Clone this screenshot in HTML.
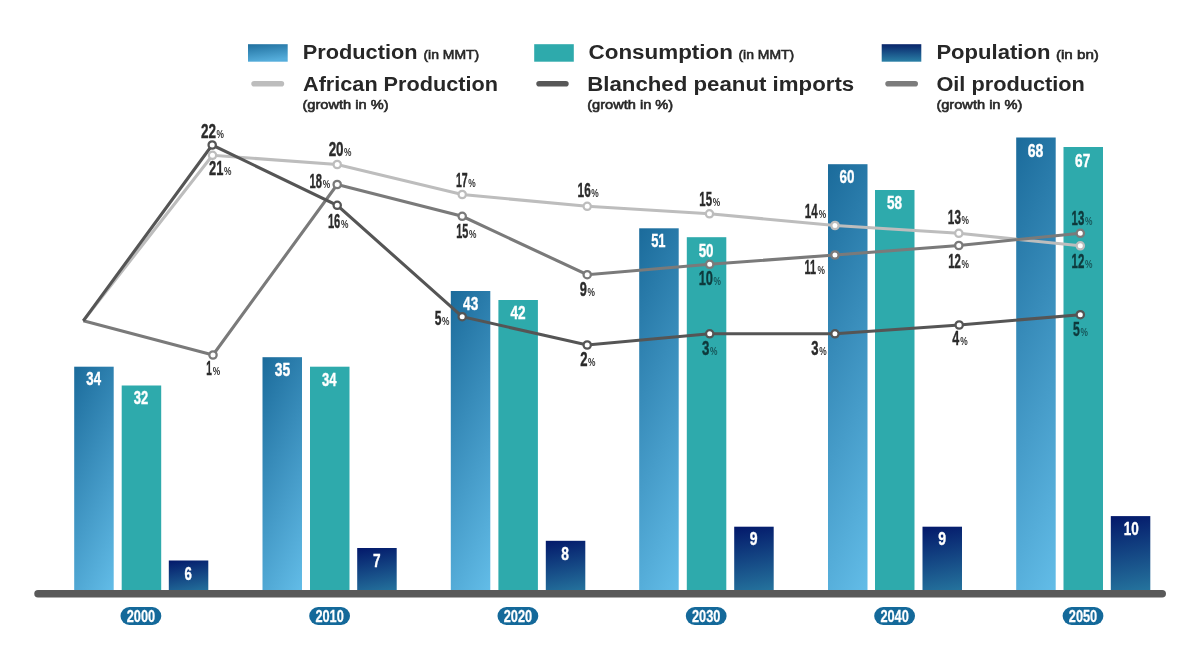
<!DOCTYPE html>
<html lang="en"><head><meta charset="utf-8"><title>Production, Consumption and Population chart</title>
<style>
html,body{margin:0;padding:0;background:#fff;}
body{width:1200px;height:668px;overflow:hidden;font-family:"Liberation Sans",sans-serif;}
svg{display:block;position:absolute;left:0;top:0;}
text{font-family:"Liberation Sans",sans-serif;}
.lg{font-weight:700;font-size:20px;fill:#272727;}
.sm{font-weight:400;font-size:13px;fill:#272727;stroke:#272727;stroke-width:0.6px;}
.bl{font-weight:700;fill:#fff;stroke:#fff;stroke-width:0.4px;}
.ll{font-weight:700;fill:#2b2b2b;stroke:#2b2b2b;stroke-width:0.4px;}
.pc{font-weight:700;font-size:11.8px;fill:#333;}
.yr{font-weight:700;font-size:16px;fill:#fff;stroke:#fff;stroke-width:0.25px;}
</style></head><body>
<svg width="1200" height="668" viewBox="0 0 1200 668">
<defs>
<linearGradient id="gb" x1="0" y1="0" x2="1" y2="1"><stop offset="0" stop-color="#1b6b9b"/><stop offset="1" stop-color="#63bde8"/></linearGradient>
<linearGradient id="gbl" x1="0" y1="0" x2="0.25" y2="1"><stop offset="0" stop-color="#1f6f9e"/><stop offset="1" stop-color="#55addb"/></linearGradient>
<linearGradient id="gn" x1="0.3" y1="0" x2="0.7" y2="1"><stop offset="0" stop-color="#04175f"/><stop offset="1" stop-color="#26779f"/></linearGradient>
<linearGradient id="gnl" x1="0" y1="0" x2="0" y2="1"><stop offset="0" stop-color="#08246a"/><stop offset="1" stop-color="#2a80a6"/></linearGradient>
</defs>
<rect width="1200" height="668" fill="#ffffff"/>

<rect x="248" y="44.2" width="39.7" height="17.5" fill="url(#gbl)"/>
<rect x="534.2" y="44.2" width="39.6" height="17.5" fill="#2eaaac"/>
<rect x="881.7" y="44.2" width="39.6" height="17.5" fill="url(#gnl)"/>
<line x1="254.10000000000002" y1="83.8" x2="281.4" y2="83.8" stroke="#bdbdbd" stroke-width="5.6" stroke-linecap="round"/>
<line x1="539.0999999999999" y1="83.8" x2="565.9000000000001" y2="83.8" stroke="#585858" stroke-width="5.6" stroke-linecap="round"/>
<line x1="888.0999999999999" y1="83.8" x2="915.2" y2="83.8" stroke="#7c7c7c" stroke-width="5.6" stroke-linecap="round"/>
<text class="lg" x="302.8" y="59.2" textLength="114.7" lengthAdjust="spacingAndGlyphs">Production</text>
<text class="sm" x="423.4" y="59.2" textLength="55.8" lengthAdjust="spacingAndGlyphs">(in MMT)</text>
<text class="lg" x="303.0" y="90.8" textLength="194.9" lengthAdjust="spacingAndGlyphs">African Production</text>
<text class="sm" x="302.5" y="108.7" textLength="86" lengthAdjust="spacingAndGlyphs">(growth in %)</text>
<text class="lg" x="588.6" y="59.2" textLength="144.3" lengthAdjust="spacingAndGlyphs">Consumption</text>
<text class="sm" x="738.4" y="59.2" textLength="55.8" lengthAdjust="spacingAndGlyphs">(in MMT)</text>
<text class="lg" x="587.2" y="90.8" textLength="267" lengthAdjust="spacingAndGlyphs">Blanched peanut imports</text>
<text class="sm" x="587.2" y="108.7" textLength="86" lengthAdjust="spacingAndGlyphs">(growth in %)</text>
<text class="lg" x="936.4" y="59.2" textLength="114.0" lengthAdjust="spacingAndGlyphs">Population</text>
<text class="sm" x="1055.9" y="59.2" textLength="43.0" lengthAdjust="spacingAndGlyphs">(in bn)</text>
<text class="lg" x="936.4" y="90.8" textLength="148.5" lengthAdjust="spacingAndGlyphs">Oil production</text>
<text class="sm" x="936.4" y="108.7" textLength="86" lengthAdjust="spacingAndGlyphs">(growth in %)</text>
<linearGradient id="b0" gradientUnits="userSpaceOnUse" x1="74.2" y1="366.7" x2="195.3" y2="425.8"><stop offset="0" stop-color="#1b6b9b"/><stop offset="1" stop-color="#63bde8"/></linearGradient>
<linearGradient id="n0" gradientUnits="userSpaceOnUse" x1="168.8" y1="560.5" x2="175.5" y2="598.8"><stop offset="0" stop-color="#03186a"/><stop offset="1" stop-color="#26779f"/></linearGradient>
<rect x="74.2" y="366.7" width="39.5" height="226.3" fill="url(#b0)"/>
<rect x="121.7" y="385.5" width="39.5" height="207.5" fill="#2eaaac"/>
<rect x="168.8" y="560.5" width="39.5" height="32.5" fill="url(#n0)"/>
<linearGradient id="b1" gradientUnits="userSpaceOnUse" x1="262.5" y1="357.2" x2="387.3" y2="418.1"><stop offset="0" stop-color="#1b6b9b"/><stop offset="1" stop-color="#63bde8"/></linearGradient>
<linearGradient id="n1" gradientUnits="userSpaceOnUse" x1="357.2" y1="548.0" x2="366.1" y2="598.4"><stop offset="0" stop-color="#03186a"/><stop offset="1" stop-color="#26779f"/></linearGradient>
<rect x="262.5" y="357.2" width="39.5" height="235.8" fill="url(#b1)"/>
<rect x="310.0" y="366.7" width="39.5" height="226.3" fill="#2eaaac"/>
<rect x="357.2" y="548.0" width="39.5" height="45.0" fill="url(#n1)"/>
<linearGradient id="b2" gradientUnits="userSpaceOnUse" x1="450.8" y1="291.0" x2="601.7" y2="364.6"><stop offset="0" stop-color="#1b6b9b"/><stop offset="1" stop-color="#63bde8"/></linearGradient>
<linearGradient id="n2" gradientUnits="userSpaceOnUse" x1="545.8" y1="540.8" x2="555.9" y2="598.2"><stop offset="0" stop-color="#03186a"/><stop offset="1" stop-color="#26779f"/></linearGradient>
<rect x="450.8" y="291.0" width="39.5" height="302.0" fill="url(#b2)"/>
<rect x="498.4" y="300.0" width="39.5" height="293.0" fill="#2eaaac"/>
<rect x="545.8" y="540.8" width="39.5" height="52.2" fill="url(#n2)"/>
<linearGradient id="b3" gradientUnits="userSpaceOnUse" x1="639.2" y1="228.3" x2="814.8" y2="313.9"><stop offset="0" stop-color="#1b6b9b"/><stop offset="1" stop-color="#63bde8"/></linearGradient>
<linearGradient id="n3" gradientUnits="userSpaceOnUse" x1="734.2" y1="526.7" x2="746.7" y2="597.8"><stop offset="0" stop-color="#03186a"/><stop offset="1" stop-color="#26779f"/></linearGradient>
<rect x="639.2" y="228.3" width="39.5" height="364.7" fill="url(#b3)"/>
<rect x="686.8" y="237.2" width="39.5" height="355.8" fill="#2eaaac"/>
<rect x="734.2" y="526.7" width="39.5" height="66.3" fill="url(#n3)"/>
<linearGradient id="b4" gradientUnits="userSpaceOnUse" x1="828.0" y1="164.2" x2="1028.9" y2="262.2"><stop offset="0" stop-color="#1b6b9b"/><stop offset="1" stop-color="#63bde8"/></linearGradient>
<linearGradient id="n4" gradientUnits="userSpaceOnUse" x1="922.5" y1="526.7" x2="935.0" y2="597.8"><stop offset="0" stop-color="#03186a"/><stop offset="1" stop-color="#26779f"/></linearGradient>
<rect x="828.0" y="164.2" width="39.5" height="428.8" fill="url(#b4)"/>
<rect x="875.0" y="190.0" width="39.5" height="403.0" fill="#2eaaac"/>
<rect x="922.5" y="526.7" width="39.5" height="66.3" fill="url(#n4)"/>
<linearGradient id="b5" gradientUnits="userSpaceOnUse" x1="1016.2" y1="137.5" x2="1227.6" y2="240.6"><stop offset="0" stop-color="#1b6b9b"/><stop offset="1" stop-color="#63bde8"/></linearGradient>
<linearGradient id="n5" gradientUnits="userSpaceOnUse" x1="1110.8" y1="516.1" x2="1125.1" y2="597.4"><stop offset="0" stop-color="#03186a"/><stop offset="1" stop-color="#26779f"/></linearGradient>
<rect x="1016.2" y="137.5" width="39.5" height="455.5" fill="url(#b5)"/>
<rect x="1063.5" y="147.0" width="39.5" height="446.0" fill="#2eaaac"/>
<rect x="1110.8" y="516.1" width="39.5" height="76.9" fill="url(#n5)"/>
<text class="bl" font-size="18.9" transform="translate(86.30,384.70) scale(0.698,1)">34</text>
<text class="bl" font-size="18.9" transform="translate(133.80,403.80) scale(0.686,1)">32</text>
<text class="bl" font-size="18.9" transform="translate(184.51,579.70) scale(0.701,1)">6</text>
<text class="bl" font-size="18.9" transform="translate(274.68,375.50) scale(0.733,1)">35</text>
<text class="bl" font-size="18.9" transform="translate(322.00,386.00) scale(0.688,1)">34</text>
<text class="bl" font-size="18.9" transform="translate(373.01,567.00) scale(0.722,1)">7</text>
<text class="bl" font-size="18.9" transform="translate(463.10,309.70) scale(0.718,1)">43</text>
<text class="bl" font-size="18.9" transform="translate(510.40,319.00) scale(0.721,1)">42</text>
<text class="bl" font-size="18.9" transform="translate(561.16,559.70) scale(0.730,1)">8</text>
<text class="bl" font-size="18.9" transform="translate(651.20,247.20) scale(0.683,1)">51</text>
<text class="bl" font-size="18.9" transform="translate(698.69,257.00) scale(0.707,1)">50</text>
<text class="bl" font-size="18.9" transform="translate(749.71,545.30) scale(0.743,1)">9</text>
<text class="bl" font-size="18.9" transform="translate(839.50,182.80) scale(0.711,1)">60</text>
<text class="bl" font-size="18.9" transform="translate(887.08,209.30) scale(0.715,1)">58</text>
<text class="bl" font-size="18.9" transform="translate(938.31,545.30) scale(0.743,1)">9</text>
<text class="bl" font-size="18.9" transform="translate(1027.78,156.50) scale(0.745,1)">68</text>
<text class="bl" font-size="18.9" transform="translate(1075.09,166.50) scale(0.723,1)">67</text>
<text class="bl" font-size="18.9" transform="translate(1123.75,534.50) scale(0.714,1)">10</text>
<line x1="38" y1="593.8" x2="1162.2" y2="593.8" stroke="#595959" stroke-width="7.5" stroke-linecap="round"/>
<rect x="120.5" y="607" width="40.8" height="18" rx="9" fill="#14699a"/>
<text class="yr" text-anchor="middle" transform="translate(140.9,621.7) scale(0.80,1)">2000</text>
<rect x="309.2" y="607" width="40.8" height="18" rx="9" fill="#14699a"/>
<text class="yr" text-anchor="middle" transform="translate(329.6,621.7) scale(0.80,1)">2010</text>
<rect x="497.5" y="607" width="40.8" height="18" rx="9" fill="#14699a"/>
<text class="yr" text-anchor="middle" transform="translate(517.9,621.7) scale(0.80,1)">2020</text>
<rect x="685.8" y="607" width="40.8" height="18" rx="9" fill="#14699a"/>
<text class="yr" text-anchor="middle" transform="translate(706.2,621.7) scale(0.80,1)">2030</text>
<rect x="874.2" y="607" width="40.8" height="18" rx="9" fill="#14699a"/>
<text class="yr" text-anchor="middle" transform="translate(894.6,621.7) scale(0.80,1)">2040</text>
<rect x="1062.6" y="607" width="40.8" height="18" rx="9" fill="#14699a"/>
<text class="yr" text-anchor="middle" transform="translate(1083.0,621.7) scale(0.80,1)">2050</text>
<polyline points="83.3,320.8 212.5,155.3 337.2,164.5 462.2,194.5 587.2,206.3 709.5,213.8 835,225.5 958.8,233.3 1080.3,245.8" fill="none" stroke="#bdbdbd" stroke-width="3.1" stroke-linejoin="miter"/>
<polyline points="83.3,320.8 213,355 337.2,184.5 462.2,216.3 587.2,274.7 709.7,264.3 835,255 958.8,245.5 1080.3,233.3" fill="none" stroke="#7a7a7a" stroke-width="3.1" stroke-linejoin="miter"/>
<polyline points="83.3,320.8 212.2,145 337.2,205.3 462.2,316.7 587.2,345 709.7,333.8 835,333.8 959.2,325 1080.3,314.7" fill="none" stroke="#555555" stroke-width="3.1" stroke-linejoin="miter"/>
<circle cx="212.5" cy="155.3" r="3.65" fill="#fff" stroke="#bdbdbd" stroke-width="2.3"/>
<circle cx="337.2" cy="164.5" r="3.65" fill="#fff" stroke="#bdbdbd" stroke-width="2.3"/>
<circle cx="462.2" cy="194.5" r="3.65" fill="#fff" stroke="#bdbdbd" stroke-width="2.3"/>
<circle cx="587.2" cy="206.3" r="3.65" fill="#fff" stroke="#bdbdbd" stroke-width="2.3"/>
<circle cx="709.5" cy="213.8" r="3.65" fill="#fff" stroke="#bdbdbd" stroke-width="2.3"/>
<circle cx="835" cy="225.5" r="3.65" fill="#fff" stroke="#bdbdbd" stroke-width="2.3"/>
<circle cx="958.8" cy="233.3" r="3.65" fill="#fff" stroke="#bdbdbd" stroke-width="2.3"/>
<circle cx="1080.3" cy="245.8" r="3.65" fill="#fff" stroke="#bdbdbd" stroke-width="2.3"/>
<circle cx="213" cy="355" r="3.65" fill="#fff" stroke="#7a7a7a" stroke-width="2.3"/>
<circle cx="337.2" cy="184.5" r="3.65" fill="#fff" stroke="#7a7a7a" stroke-width="2.3"/>
<circle cx="462.2" cy="216.3" r="3.65" fill="#fff" stroke="#7a7a7a" stroke-width="2.3"/>
<circle cx="587.2" cy="274.7" r="3.65" fill="#fff" stroke="#7a7a7a" stroke-width="2.3"/>
<circle cx="709.7" cy="264.3" r="3.65" fill="#fff" stroke="#7a7a7a" stroke-width="2.3"/>
<circle cx="835" cy="255" r="3.65" fill="#fff" stroke="#7a7a7a" stroke-width="2.3"/>
<circle cx="958.8" cy="245.5" r="3.65" fill="#fff" stroke="#7a7a7a" stroke-width="2.3"/>
<circle cx="1080.3" cy="233.3" r="3.65" fill="#fff" stroke="#7a7a7a" stroke-width="2.3"/>
<circle cx="212.2" cy="145" r="3.65" fill="#fff" stroke="#555555" stroke-width="2.3"/>
<circle cx="337.2" cy="205.3" r="3.65" fill="#fff" stroke="#555555" stroke-width="2.3"/>
<circle cx="462.2" cy="316.7" r="3.65" fill="#fff" stroke="#555555" stroke-width="2.3"/>
<circle cx="587.2" cy="345" r="3.65" fill="#fff" stroke="#555555" stroke-width="2.3"/>
<circle cx="709.7" cy="333.8" r="3.65" fill="#fff" stroke="#555555" stroke-width="2.3"/>
<circle cx="835" cy="333.8" r="3.65" fill="#fff" stroke="#555555" stroke-width="2.3"/>
<circle cx="959.2" cy="325" r="3.65" fill="#fff" stroke="#555555" stroke-width="2.3"/>
<circle cx="1080.3" cy="314.7" r="3.65" fill="#fff" stroke="#555555" stroke-width="2.3"/>
<text class="ll" font-size="20.4" transform="translate(201.03,137.55) scale(0.662,1)">22</text>
<text class="pc" transform="translate(216.55,137.55) scale(0.71,1)">%</text>
<text class="ll" font-size="20.4" transform="translate(209.05,174.95) scale(0.631,1)">21</text>
<text class="pc" transform="translate(224.05,174.95) scale(0.71,1)">%</text>
<text class="ll" font-size="20.4" transform="translate(206.36,375.05) scale(0.495,1)">1</text>
<text class="pc" transform="translate(212.75,375.05) scale(0.71,1)">%</text>
<text class="ll" font-size="20.4" transform="translate(328.63,156.25) scale(0.658,1)">20</text>
<text class="pc" transform="translate(344.05,156.25) scale(0.71,1)">%</text>
<text class="ll" font-size="20.4" transform="translate(309.59,187.55) scale(0.549,1)">18</text>
<text class="pc" transform="translate(322.75,187.55) scale(0.71,1)">%</text>
<text class="ll" font-size="20.4" transform="translate(327.90,228.35) scale(0.547,1)">16</text>
<text class="pc" transform="translate(340.95,228.35) scale(0.71,1)">%</text>
<text class="ll" font-size="20.4" transform="translate(455.94,187.25) scale(0.517,1)">17</text>
<text class="pc" transform="translate(468.25,187.25) scale(0.71,1)">%</text>
<text class="ll" font-size="20.4" transform="translate(456.22,238.35) scale(0.533,1)">15</text>
<text class="pc" transform="translate(469.05,238.35) scale(0.71,1)">%</text>
<text class="ll" font-size="20.4" transform="translate(434.63,324.95) scale(0.592,1)">5</text>
<text class="pc" transform="translate(442.05,324.95) scale(0.71,1)">%</text>
<text class="ll" font-size="20.4" transform="translate(577.55,197.25) scale(0.581,1)">16</text>
<text class="pc" transform="translate(591.35,197.25) scale(0.71,1)">%</text>
<text class="ll" font-size="20.4" transform="translate(579.85,295.75) scale(0.628,1)">9</text>
<text class="pc" transform="translate(587.55,295.75) scale(0.71,1)">%</text>
<text class="ll" font-size="20.4" transform="translate(580.14,365.85) scale(0.642,1)">2</text>
<text class="pc" transform="translate(587.95,365.85) scale(0.71,1)">%</text>
<text class="ll" font-size="20.4" transform="translate(699.28,206.35) scale(0.562,1)">15</text>
<text class="pc" transform="translate(712.75,206.35) scale(0.71,1)">%</text>
<text class="ll" style="fill:#0e383b;stroke:#0e383b" font-size="20.4" transform="translate(698.69,285.05) scale(0.632,1)">10</text>
<text class="pc" style="fill:#17575b" transform="translate(713.55,285.05) scale(0.71,1)">%</text>
<text class="ll" style="fill:#0e383b;stroke:#0e383b" font-size="20.4" transform="translate(701.99,355.05) scale(0.651,1)">3</text>
<text class="pc" style="fill:#17575b" transform="translate(709.95,355.05) scale(0.71,1)">%</text>
<text class="ll" font-size="20.4" transform="translate(804.87,218.35) scale(0.568,1)">14</text>
<text class="pc" transform="translate(818.75,218.35) scale(0.71,1)">%</text>
<text class="ll" font-size="20.4" transform="translate(804.62,273.85) scale(0.533,1)">11</text>
<text class="pc" transform="translate(817.45,273.85) scale(0.71,1)">%</text>
<text class="ll" font-size="20.4" transform="translate(811.30,355.05) scale(0.641,1)">3</text>
<text class="pc" transform="translate(819.15,355.05) scale(0.71,1)">%</text>
<text class="ll" font-size="20.4" transform="translate(947.86,224.25) scale(0.576,1)">13</text>
<text class="pc" transform="translate(961.55,224.25) scale(0.71,1)">%</text>
<text class="ll" font-size="20.4" transform="translate(948.18,267.55) scale(0.563,1)">12</text>
<text class="pc" transform="translate(961.55,267.55) scale(0.71,1)">%</text>
<text class="ll" font-size="20.4" transform="translate(952.31,345.05) scale(0.613,1)">4</text>
<text class="pc" transform="translate(960.25,345.05) scale(0.71,1)">%</text>
<text class="ll" style="fill:#0e383b;stroke:#0e383b" font-size="20.4" transform="translate(1071.58,224.75) scale(0.561,1)">13</text>
<text class="pc" style="fill:#17575b" transform="translate(1084.95,224.75) scale(0.71,1)">%</text>
<text class="ll" style="fill:#0e383b;stroke:#0e383b" font-size="20.4" transform="translate(1071.58,267.55) scale(0.563,1)">12</text>
<text class="pc" style="fill:#17575b" transform="translate(1084.95,267.55) scale(0.71,1)">%</text>
<text class="ll" style="fill:#0e383b;stroke:#0e383b" font-size="20.4" transform="translate(1072.92,335.55) scale(0.602,1)">5</text>
<text class="pc" style="fill:#17575b" transform="translate(1080.45,335.55) scale(0.71,1)">%</text>
</svg>
</body></html>
